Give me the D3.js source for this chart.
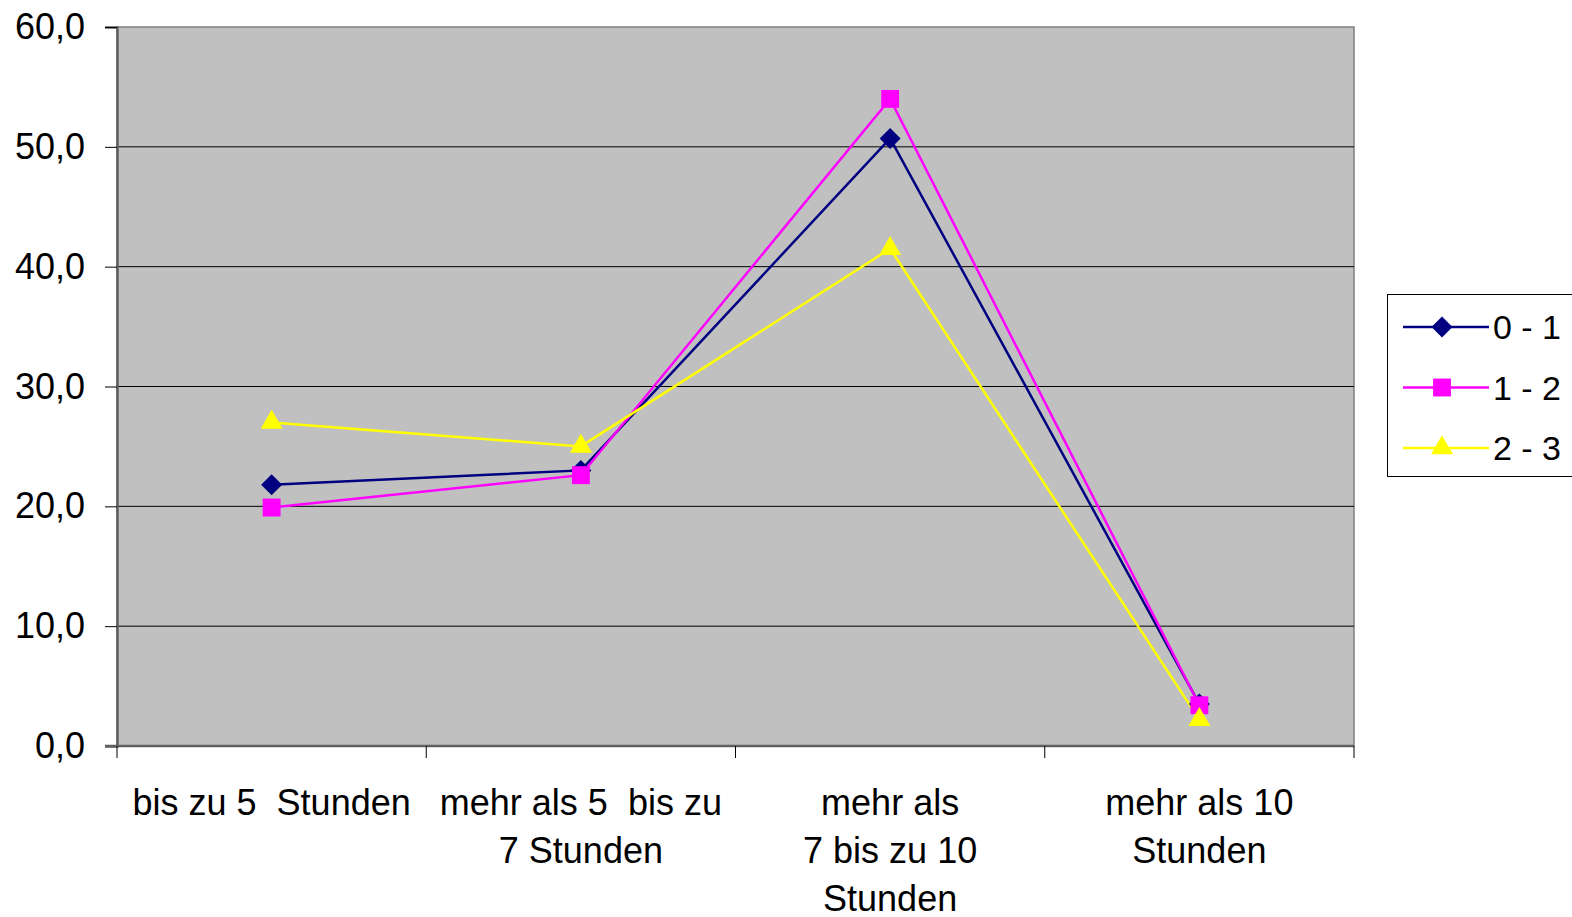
<!DOCTYPE html>
<html>
<head>
<meta charset="utf-8">
<script src="https://cdn.jsdelivr.net/npm/d3@7"></script>
<style>
  body { margin: 0; background: #fff; }
  text { font-family: "Liberation Sans", Arial, sans-serif; white-space: pre; }
</style>
</head>
<body>
<svg id="chart" width="1572" height="917"></svg>
<script>
const categories = [
  ["bis zu 5  Stunden"],
  ["mehr als 5  bis zu", "7 Stunden"],
  ["mehr als", "7 bis zu 10", "Stunden"],
  ["mehr als 10", "Stunden"]
];
const seriesNames = ["0 - 1", "1 - 2", "2 - 3"];
const values01 = [21.8, 23.0, 50.7, 3.5];
const values12 = [19.9, 22.6, 54.0, 3.4];
const values23 = [27.0, 25.0, 41.5, 2.2];
const yTicks = [0, 10, 20, 30, 40, 50, 60];

const colors = ["#000080", "#FF00FF", "#FFFF00"];
const allValues = [values01, values12, values23];

// marker shapes: diamond = rotated square
const markerPath = [
  d3.symbol().type(d3.symbolSquare).size(220)(),
  d3.symbol().type(d3.symbolSquare).size(320)(),
  d3.symbol().type(d3.symbolTriangle).size(210)()
];
const markerRot = [45, 0, 0];

const svg = d3.select("#chart");
const plotLeft = 117, plotRight = 1354, plotTop = 27, plotBottom = 746;

const x = d3.scaleBand().domain(d3.range(categories.length)).range([plotLeft, plotRight]);
const y = d3.scaleLinear().domain([0, 60]).range([plotBottom, plotTop]);

// plot area
svg.append("rect")
  .attr("x", plotLeft).attr("y", plotTop)
  .attr("width", plotRight - plotLeft).attr("height", plotBottom - plotTop)
  .attr("fill", "#C0C0C0")
  .attr("stroke", "#808080").attr("stroke-width", 1.5);

// gridlines
svg.append("g").selectAll("line")
  .data(yTicks.filter(d => d > 0 && d < 60))
  .join("line")
  .attr("x1", plotLeft).attr("x2", plotRight)
  .attr("y1", d => y(d)).attr("y2", d => y(d))
  .attr("stroke", "#000").attr("stroke-width", 1);

// y axis
const yAxis = svg.append("g")
  .attr("transform", `translate(${plotLeft},0)`)
  .call(d3.axisLeft(y).tickValues(yTicks).tickSize(12).tickPadding(20)
    .tickFormat(d => d3.format(".1f")(d).replace(".", ",")));
yAxis.select(".domain").attr("stroke", "#606060").attr("stroke-width", 2.5);
yAxis.selectAll(".tick line").attr("stroke", "#000");
yAxis.selectAll("text").attr("font-size", 36).attr("fill", "#000")
  .attr("font-family", "Liberation Sans, Arial, sans-serif");

// x axis line and ticks at band boundaries
svg.append("line")
  .attr("x1", plotLeft - 12).attr("x2", plotRight)
  .attr("y1", plotBottom).attr("y2", plotBottom)
  .attr("stroke", "#606060").attr("stroke-width", 2.5);
const bounds = d3.range(categories.length + 1).map(i => plotLeft + i * x.bandwidth());
svg.append("g").selectAll("line")
  .data(bounds)
  .join("line")
  .attr("x1", d => d).attr("x2", d => d)
  .attr("y1", plotBottom).attr("y2", plotBottom + 12)
  .attr("stroke", "#000");

// category labels
const lbl = svg.append("g").selectAll("text")
  .data(categories)
  .join("text")
  .attr("text-anchor", "middle")
  .attr("font-size", 36)
  .attr("fill", "#000")
  .attr("transform", (d, i) => `translate(${x(i) + x.bandwidth() / 2},815)`);
lbl.selectAll("tspan")
  .data(d => d)
  .join("tspan")
  .attr("x", 0)
  .attr("y", (d, i) => i * 48)
  .text(d => d);

// series
const line = d3.line().x((d, i) => x(i) + x.bandwidth() / 2).y(d => y(d));
allValues.forEach((vals, s) => {
  svg.append("path")
    .datum(vals)
    .attr("d", line)
    .attr("fill", "none")
    .attr("stroke", colors[s])
    .attr("stroke-width", 2.5);
});
allValues.forEach((vals, s) => {
  svg.append("g").selectAll("path")
    .data(vals)
    .join("path")
    .attr("transform", (d, i) => `translate(${x(i) + x.bandwidth() / 2},${y(d)}) rotate(${markerRot[s]})`)
    .attr("d", markerPath[s])
    .attr("fill", colors[s]);
});

// legend
const lg = svg.append("g");
lg.append("rect")
  .attr("x", 1387.5).attr("y", 294.5)
  .attr("width", 200).attr("height", 182)
  .attr("fill", "#fff").attr("stroke", "#000").attr("stroke-width", 1);
seriesNames.forEach((name, s) => {
  const ly = 327 + s * 60.5;
  lg.append("line")
    .attr("x1", 1403).attr("x2", 1489)
    .attr("y1", ly).attr("y2", ly)
    .attr("stroke", colors[s]).attr("stroke-width", 2.5);
  lg.append("path")
    .attr("transform", `translate(1442,${ly}) rotate(${markerRot[s]})`)
    .attr("d", markerPath[s])
    .attr("fill", colors[s]);
  lg.append("text")
    .attr("x", 1493).attr("y", ly + 12)
    .attr("font-size", 34)
    .attr("fill", "#000")
    .text(name);
});
</script>
</body>
</html>
